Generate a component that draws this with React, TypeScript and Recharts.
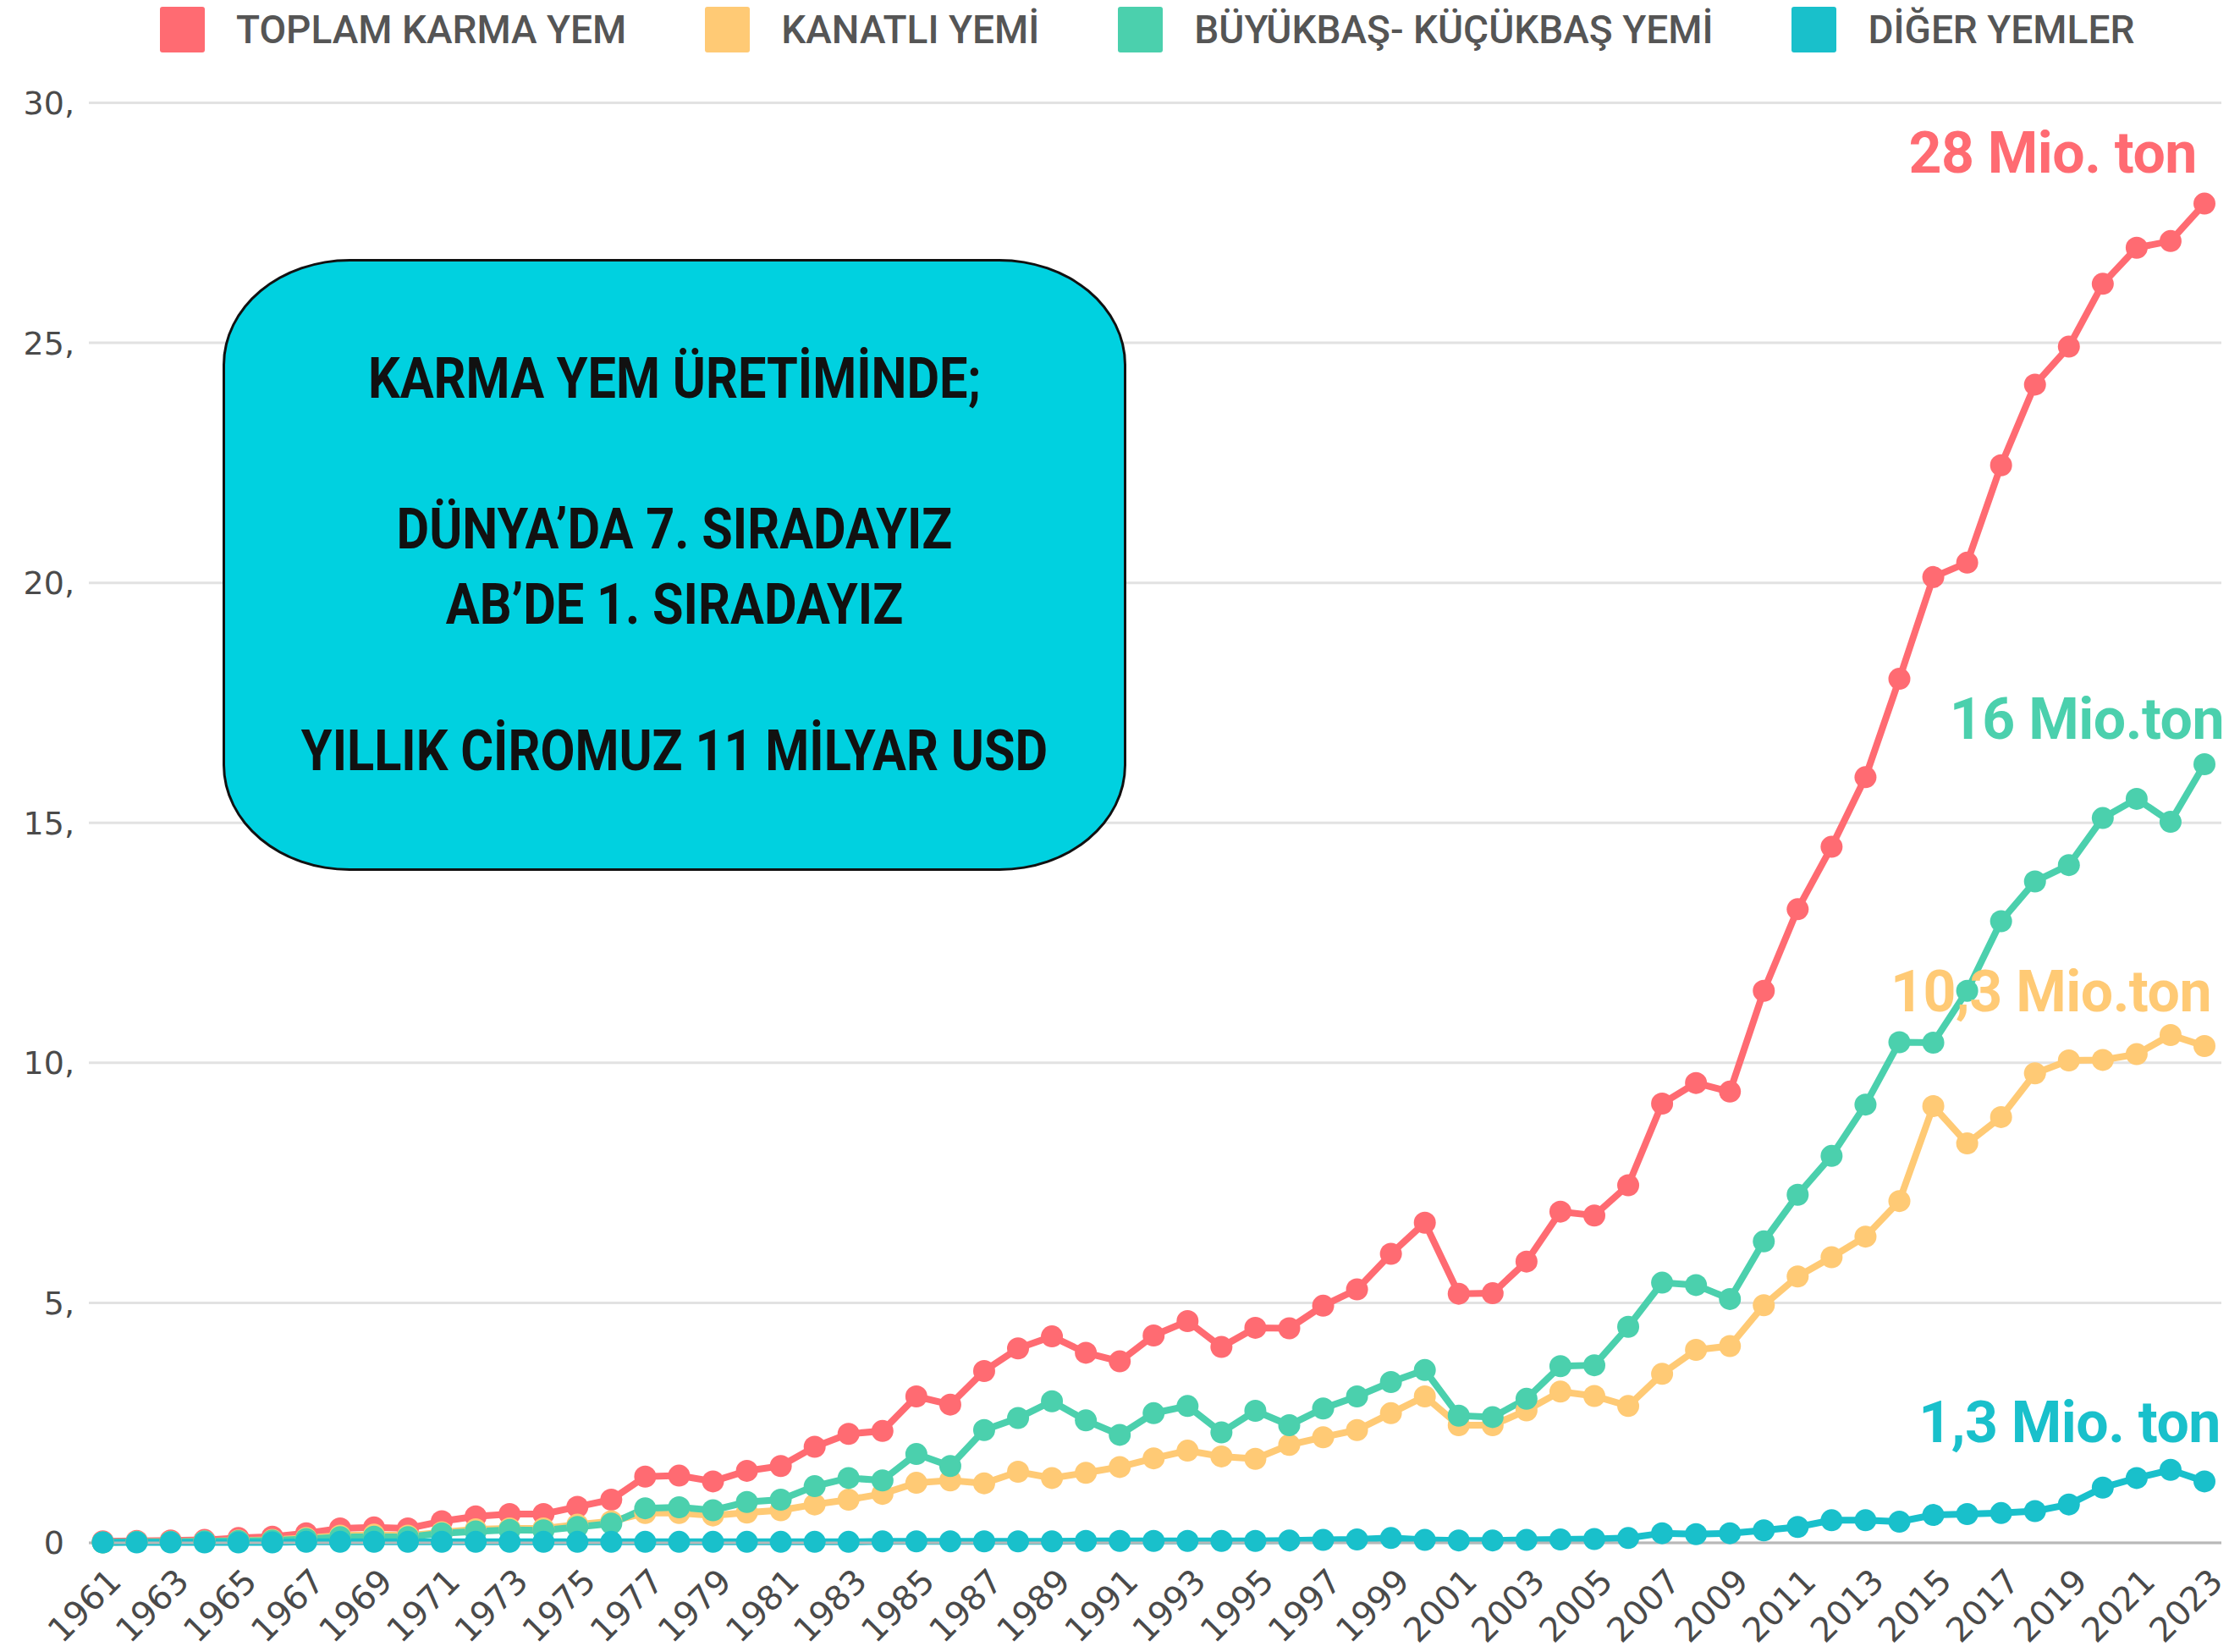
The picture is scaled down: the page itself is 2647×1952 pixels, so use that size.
import { CartesianGrid, Line, LineChart, XAxis, YAxis } from "recharts";

const years = [
  "1961", "1962", "1963", "1964", "1965", "1966", "1967", "1968", "1969", "1970",
  "1971", "1972", "1973", "1974", "1975", "1976", "1977", "1978", "1979", "1980",
  "1981", "1982", "1983", "1984", "1985", "1986", "1987", "1988", "1989", "1990",
  "1991", "1992", "1993", "1994", "1995", "1996", "1997", "1998", "1999", "2000",
  "2001", "2002", "2003", "2004", "2005", "2006", "2007", "2008", "2009", "2010",
  "2011", "2012", "2013", "2014", "2015", "2016", "2017", "2018", "2019", "2020",
  "2021", "2022", "2023",
];

const toplam = [
  0.03, 0.04, 0.05, 0.06, 0.1, 0.13, 0.2, 0.3, 0.32, 0.3,
  0.45, 0.55, 0.6, 0.6, 0.75, 0.9, 1.38, 1.4, 1.28, 1.5,
  1.6, 2.0, 2.27, 2.33, 3.05, 2.88, 3.58, 4.05, 4.3, 3.96,
  3.78, 4.32, 4.62, 4.08, 4.48, 4.47, 4.94, 5.28, 6.02, 6.67,
  5.19, 5.2, 5.86, 6.9, 6.82, 7.45, 9.15, 9.58, 9.4, 11.5,
  13.2, 14.5, 15.95, 18.0, 20.12, 20.42, 22.45, 24.13, 24.92, 26.23,
  26.98, 27.12, 27.9,
];

const kanatli = [
  0.01, 0.02, 0.02, 0.03, 0.05, 0.06, 0.1, 0.15, 0.17, 0.15,
  0.22, 0.28, 0.3, 0.3, 0.38, 0.45, 0.62, 0.62, 0.57, 0.63,
  0.68, 0.8, 0.9, 1.02, 1.25, 1.3, 1.24, 1.48, 1.35, 1.46,
  1.58, 1.76, 1.92, 1.8, 1.75, 2.04, 2.2, 2.35, 2.7, 3.05,
  2.45, 2.45, 2.76, 3.15, 3.06, 2.85, 3.52, 4.02, 4.1, 4.95,
  5.55, 5.95, 6.38, 7.12, 9.1, 8.32, 8.87, 9.78, 10.05, 10.06,
  10.18, 10.58, 10.35,
];

const buyukbas = [
  0.01, 0.02, 0.02, 0.03, 0.04, 0.05, 0.08, 0.12, 0.13, 0.12,
  0.2, 0.24, 0.27, 0.26, 0.33, 0.4, 0.72, 0.74, 0.68, 0.85,
  0.9, 1.18, 1.35, 1.3, 1.85, 1.6, 2.35, 2.6, 2.95, 2.55,
  2.25, 2.7, 2.85, 2.3, 2.75, 2.45, 2.8, 3.05, 3.35, 3.6,
  2.65, 2.62, 3.0, 3.68, 3.7, 4.5, 5.42, 5.37, 5.08, 6.28,
  7.25, 8.06, 9.13, 10.43, 10.42, 11.5, 12.95, 13.78, 14.12, 15.1,
  15.5, 15.02, 16.22,
];

const diger = [
  0.01, 0.01, 0.01, 0.01, 0.01, 0.01, 0.02, 0.02, 0.02, 0.02,
  0.02, 0.02, 0.02, 0.02, 0.02, 0.02, 0.02, 0.02, 0.02, 0.02,
  0.02, 0.02, 0.02, 0.03, 0.03, 0.03, 0.03, 0.03, 0.03, 0.04,
  0.04, 0.04, 0.04, 0.04, 0.04, 0.05, 0.06, 0.07, 0.1, 0.06,
  0.05, 0.05, 0.06, 0.07, 0.08, 0.1, 0.2, 0.18, 0.2, 0.26,
  0.33, 0.47, 0.47, 0.44, 0.58, 0.6, 0.62, 0.66, 0.8, 1.15,
  1.35, 1.52, 1.28,
];

const yTicks = [0, 5, 10, 15, 20, 25, 30];

const series = [
  { key: "toplam", name: "TOPLAM KARMA YEM", color: "#FF6B72", end: "28 Mio. ton", dx: -9, dy: -37 },
  { key: "kanatli", name: "KANATLI YEMİ", color: "#FFCA75", end: "10,3 Mio.ton", dx: 8, dy: -41 },
  { key: "buyukbas", name: "BÜYÜKBAŞ- KÜÇÜKBAŞ YEMİ", color: "#4BD0AD", end: "16 Mio.ton", dx: 23, dy: -30 },
  { key: "diger", name: "DİĞER YEMLER", color: "#19C0CB", end: "1,3 Mio. ton", dx: 19, dy: -46 },
];

const boxLines = [
  { text: "KARMA YEM ÜRETİMİNDE;", center: 142 },
  { text: "DÜNYA’DA 7. SIRADAYIZ", center: 320 },
  { text: "AB’DE 1. SIRADAYIZ", center: 409 },
  { text: "YILLIK CİROMUZ 11 MİLYAR USD", center: 582 },
];

const data = years.map((year, i) => ({
  year,
  toplam: toplam[i],
  kanatli: kanatli[i],
  buyukbas: buyukbas[i],
  diger: diger[i],
}));

const lastIndex = years.length - 1;

function XTick({ x, y, payload }: any) {
  const ax = x + 24;
  const ay = y + 40;
  return (
    <text
      x={ax}
      y={ay}
      textAnchor="end"
      fill="#4a4a4a"
      fontSize={40}
      fontFamily="DejaVu Sans"
      transform={`rotate(-45, ${ax}, ${ay})`}
    >
      {payload.value}
    </text>
  );
}

function endLabel(s: (typeof series)[number]) {
  return (props: any) => {
    if (props.index !== lastIndex) return null;
    return (
      <text
        x={props.x + s.dx}
        y={props.y + s.dy}
        textAnchor="end"
        fill={s.color}
        fontSize={68}
        fontWeight={700}
        fontFamily="Roboto"
        letterSpacing={-0.5}
      >
        {s.end}
      </text>
    );
  };
}

export default function App() {
  return (
    <div style={{ position: "absolute", left: 0, top: 0, width: 2647, height: 1952, background: "#fff", overflow: "hidden" }}>
      <LineChart width={2647} height={1952} data={data} margin={{ top: 121.5, right: 22, bottom: 0, left: 5 }}>
        <CartesianGrid vertical={false} stroke="#e2e2e2" strokeWidth={3} />
        <XAxis
          dataKey="year"
          interval={1}
          height={129}
          padding={{ left: 16.5, right: 20 }}
          axisLine={{ stroke: "#b8b8b8", strokeWidth: 3 }}
          tickLine={false}
          tick={<XTick />}
        />
        <YAxis
          domain={[0, 30]}
          ticks={yTicks}
          width={100}
          axisLine={false}
          tickLine={false}
          tickSize={0}
          tickMargin={17}
          tickFormatter={(v: number) => (v === 0 ? "0\u00a0" : `${v},`)}
          tick={{ fill: "#4a4a4a", fontSize: 38, fontFamily: "DejaVu Sans" }}
        />
        {series.map((s) => (
          <Line
            key={s.key}
            dataKey={s.key}
            name={s.name}
            stroke={s.color}
            strokeWidth={8}
            dot={{ r: 13, fill: s.color, stroke: s.color, strokeWidth: 0 }}
            activeDot={false}
            isAnimationActive={false}
            label={endLabel(s)}
          />
        ))}
      </LineChart>

      <div style={{ position: "absolute", left: 189, top: 8, display: "flex", alignItems: "center", height: 54 }}>
        {series.map((s) => (
          <div key={s.key} style={{ display: "flex", alignItems: "center", marginRight: 93 }}>
            <div style={{ width: 53, height: 54, background: s.color, borderRadius: 3, marginRight: 37 }} />
            <span style={{ fontFamily: "Roboto", fontWeight: 500, fontSize: 46, color: "#555", whiteSpace: "nowrap" }}>
              {s.name}
            </span>
          </div>
        ))}
      </div>

      <div
        style={{
          position: "absolute",
          left: 263,
          top: 306,
          width: 1068,
          height: 723,
          boxSizing: "border-box",
          background: "#00D1E0",
          border: "3px solid #111",
          borderRadius: "150px / 125px",
        }}
      >
        {boxLines.map((l) => (
          <div
            key={l.text}
            style={{
              position: "absolute",
              left: 0,
              width: "100%",
              top: l.center - 3 - 40,
              height: 80,
              lineHeight: "80px",
              textAlign: "center",
              fontFamily: "Roboto",
              fontWeight: 700,
              fontSize: 66,
              color: "#111",
              transform: "scaleX(0.9)",
              whiteSpace: "nowrap",
            }}
          >
            {l.text}
          </div>
        ))}
      </div>
    </div>
  );
}
